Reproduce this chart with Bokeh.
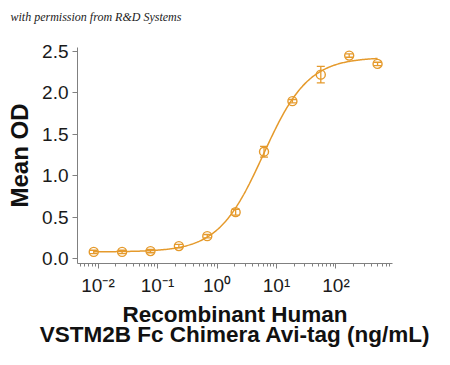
import numpy as np
from bokeh.plotting import figure
from bokeh.models import (Range1d, FixedTicker, CustomJSTickFormatter, Whisker, TeeHead,
                          ColumnDataSource, PrintfTickFormatter, Title)
from bokeh.embed import file_html
from bokeh.resources import INLINE

# ---- data ----
conc = [500.0, 166.7, 55.56, 18.52, 6.173, 2.058, 0.686, 0.2286, 0.0762, 0.0254, 0.00847]
mean_od = [2.35, 2.45, 2.22, 1.90, 1.29, 0.56, 0.27, 0.15, 0.09, 0.08, 0.08]
sd = [0.02, 0.02, 0.10, 0.02, 0.065, 0.035, 0.02, 0.02, 0.02, 0.02, 0.02]

# 4-parameter logistic fit (parameters)
fit_bottom = 0.08
fit_top = 2.43
fit_ec50 = 6.0
fit_hill = 1.15

x_ticks = [0.01, 0.1, 1, 10, 100]
y_ticks = [0.0, 0.5, 1.0, 1.5, 2.0, 2.5]

COLOR = "#E59A2C"
AXIS = "#808080"

p = figure(width=434, height=349, x_axis_type="log", output_backend="svg",
           toolbar_location=None,
           x_range=Range1d(10 ** -2.345, 10 ** 2.95), y_range=Range1d(-0.06, 2.548),
           min_border_left=77, min_border_right=42, min_border_top=47, min_border_bottom=84)
p.title_location = None
p.outline_line_color = None
p.grid.grid_line_color = None
p.background_fill_color = "white"
p.border_fill_color = "white"

# credit line: a spacer title next to the frame, then the credit text above it
spacer = Title(text=" ", text_font_size="12px")
if "standoff" in spacer.properties():
    spacer.standoff = 6
p.add_layout(spacer, "above")
credit = Title(text="with permission from R&D Systems", align="left", offset=-67,
               text_font="Liberation Serif", text_font_style="italic",
               text_font_size="12px", text_color="#222222")
if "standoff" in credit.properties():
    credit.standoff = 4
p.add_layout(credit, "above")

# fitted curve
xs = np.logspace(np.log10(min(conc)), np.log10(max(conc)), 300)
ys = fit_bottom + (fit_top - fit_bottom) / (1 + (fit_ec50 / xs) ** fit_hill)
p.line(xs, ys, line_color=COLOR, line_width=1.5)

src = ColumnDataSource(dict(x=conc, y=mean_od,
                            lo=[m - s for m, s in zip(mean_od, sd)],
                            hi=[m + s for m, s in zip(mean_od, sd)]))
wh = Whisker(source=src, base="x", lower="lo", upper="hi", line_color=COLOR, line_width=1.3,
             upper_head=TeeHead(size=8, line_color=COLOR, line_width=1.3),
             lower_head=TeeHead(size=8, line_color=COLOR, line_width=1.3))
p.add_layout(wh)
p.scatter("x", "y", source=src, marker="circle", size=9, fill_alpha=0,
          line_color=COLOR, line_width=1.4)

# axes
minor = [m * 10.0 ** d for d in range(-3, 3) for m in range(2, 10)]
p.xaxis.ticker = FixedTicker(ticks=x_ticks, minor_ticks=minor)
p.xaxis.formatter = CustomJSTickFormatter(code="""
const sup = {'-2':'\u207b\u00b2','-1':'\u207b\u00b9','0':'\u2070','1':'\u00b9','2':'\u00b2'};
const e = Math.round(Math.log10(tick));
return '10' + sup[String(e)];
""")
p.yaxis.ticker = FixedTicker(ticks=y_ticks)
p.yaxis.formatter = PrintfTickFormatter(format="%.1f")

for ax in (p.xaxis[0], p.yaxis[0]):
    ax.axis_line_color = AXIS
    ax.major_tick_line_color = AXIS
    ax.major_tick_out = 5
    ax.major_tick_in = 0
    ax.minor_tick_out = 3
    ax.minor_tick_in = 0
    ax.major_label_text_font = "Liberation Sans"
    ax.major_label_text_font_size = "19px"
    ax.major_label_text_color = "#1a1a1a"
    ax.axis_label_text_font = "Liberation Sans"
    ax.axis_label_text_font_style = "bold"
    ax.axis_label_text_color = "#111111"
p.xaxis.minor_tick_line_color = AXIS
p.yaxis.minor_tick_line_color = None
p.xaxis.major_label_standoff = 6
p.yaxis.major_label_standoff = 4

p.yaxis.axis_label = "Mean OD"
p.yaxis.axis_label_text_font_size = "24px"
p.yaxis.axis_label_standoff = 6

p.xaxis.axis_label = "Recombinant Human\nVSTM2B Fc Chimera Avi-tag (ng/mL)"
p.xaxis.axis_label_text_font_size = "22.5px"
p.xaxis.axis_label_text_line_height = 0.8
p.xaxis.axis_label_standoff = 3

open("out.html", "w", encoding="utf-8").write(file_html(p, INLINE))
